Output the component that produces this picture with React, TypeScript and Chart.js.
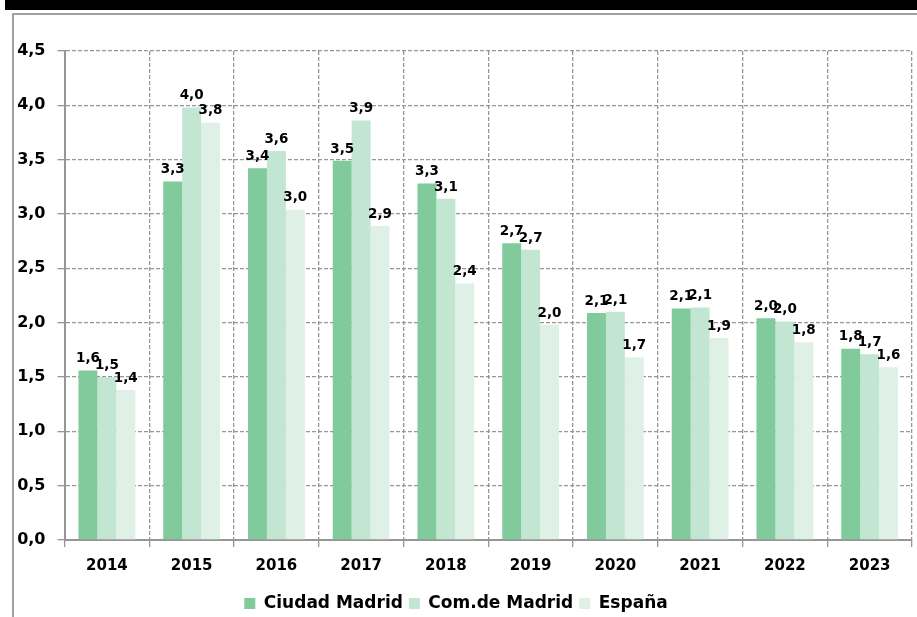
import React, { useEffect, useRef } from "react";
import { Chart, registerables } from "chart.js";

Chart.register(...registerables);

const years = ["2014", "2015", "2016", "2017", "2018", "2019", "2020", "2021", "2022", "2023"];
const ciudadMadrid = [1.56, 3.3, 3.42, 3.49, 3.28, 2.73, 2.09, 2.13, 2.04, 1.76];
const comunidadMadrid = [1.5, 3.98, 3.58, 3.86, 3.14, 2.67, 2.1, 2.14, 2.01, 1.71];
const espana = [1.38, 3.84, 3.04, 2.89, 2.36, 1.98, 1.68, 1.86, 1.82, 1.59];
const seriesNames = ["Ciudad Madrid", "Com.de Madrid", "España"];
const yTicks = [0, 0.5, 1, 1.5, 2, 2.5, 3, 3.5, 4, 4.5];

const FONT = "'DejaVu Sans', sans-serif";
const fmt = (v: number) => v.toFixed(1).replace(".", ",");

const labelPlugin = {
  id: "barLabels",
  afterDatasetsDraw(chart: any) {
    const ctx = chart.ctx;
    ctx.save();
    ctx.font = `bold 13.5px ${FONT}`;
    ctx.fillStyle = "#000";
    ctx.textAlign = "center";
    ctx.textBaseline = "bottom";
    chart.data.datasets.forEach((ds: any, di: number) => {
      const meta = chart.getDatasetMeta(di);
      meta.data.forEach((bar: any, i: number) => {
        ctx.fillText(fmt(ds.data[i]), bar.x, bar.y - 5);
      });
    });
    ctx.restore();
  },
};

const legendShift = {
  id: "legendShift",
  afterLayout(chart: any) {
    if (chart.legend) {
      chart.legend.top += 5;
      chart.legend.bottom += 5;
    }
  },
};

export default function App() {
  const ref = useRef<HTMLCanvasElement | null>(null);
  useEffect(() => {
    if (!ref.current) return;
    const grid = "#969696";
    const chart = new Chart(ref.current, {
      type: "bar",
      data: {
        labels: years,
        datasets: [
          { label: seriesNames[0], data: ciudadMadrid, backgroundColor: "#80CA9B" },
          { label: seriesNames[1], data: comunidadMadrid, backgroundColor: "#C2E6D2" },
          { label: seriesNames[2], data: espana, backgroundColor: "#DFF0E6" },
        ],
      },
      options: {
        responsive: false,
        animation: false,
        devicePixelRatio: 1,
        layout: { padding: { left: 0, top: 51, right: 5, bottom: 0 } },
        datasets: { bar: { categoryPercentage: 0.67, barPercentage: 1.0, borderWidth: 0 } },
        scales: {
          x: {
            offset: true,
            grid: {
              offset: true,
              color: grid,
              lineWidth: 1.3,
              tickBorderDash: [],
              tickLength: 7,
              tickColor: grid,
            } as any,
            border: { display: true, color: grid, width: 2, dash: [4, 2] },
            ticks: { color: "#000", font: { family: FONT, size: 15, weight: "bold" }, padding: 10 },
            afterFit: (s: any) => {
              s.height = 44;
            },
          },
          y: {
            min: 0,
            max: 4.5,
            afterBuildTicks: (s: any) => {
              s.ticks = yTicks.map((v) => ({ value: v }));
            },
            grid: {
              color: grid,
              lineWidth: 1.3,
              tickLength: 7,
            } as any,
            border: { display: true, color: grid, width: 2, dash: [4, 2] },
            ticks: {
              color: "#000",
              font: { family: FONT, size: 16, weight: "bold" },
              padding: 12,
              callback: (v: any) => fmt(Number(v)),
            },
            afterFit: (s: any) => {
              s.width = 64.5;
            },
          },
        },
        plugins: {
          legend: {
            position: "bottom",
            labels: {
              boxWidth: 11,
              boxHeight: 11,
              padding: 6,
              color: "#000",
              font: { family: FONT, size: 17, weight: "bold" },
            },
          },
          tooltip: { enabled: false },
        },
      },
      plugins: [labelPlugin, legendShift],
    });
    return () => chart.destroy();
  }, []);

  return (
    <div style={{ position: "absolute", left: 0, top: 0, width: 917, height: 617, background: "#fff", overflow: "hidden" }}>
      <div style={{ position: "absolute", left: 5, top: 0, width: 912, height: 10, background: "#000" }} />
      <div
        style={{
          position: "absolute",
          left: 12,
          top: 13,
          right: -4,
          bottom: -4,
          borderTop: "2px solid #a0a0a0",
          borderLeft: "2px solid #a0a0a0",
        }}
      />
      <canvas ref={ref} width={917} height={617} style={{ position: "absolute", left: 0, top: 0 }} />
    </div>
  );
}
